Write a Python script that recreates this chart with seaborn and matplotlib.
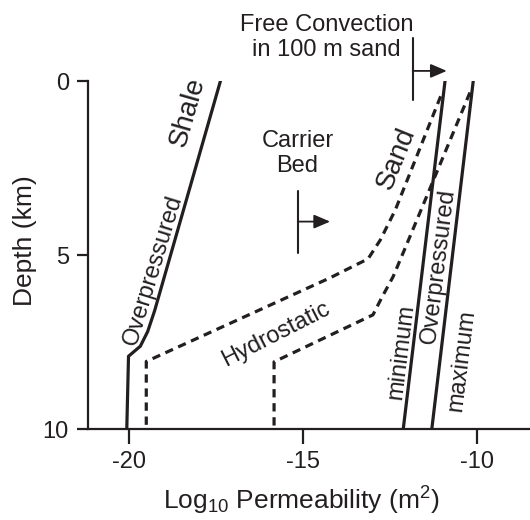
import matplotlib
matplotlib.use("Agg")
import matplotlib.pyplot as plt
import numpy as np
import pandas as pd
import seaborn as sns

# ---------------- data (log10 permeability vs depth km) ----------------
shale_depth = [0.0, 6.6, 7.2, 7.62, 7.91, 8.75, 10.0]
shale_logk = [-17.36, -19.25, -19.45, -19.66, -20.0, -20.02, -20.05]

hydro_low_depth = [9.88, 8.06, 5.66, 5.11, 4.57, 3.71, 0.40]
hydro_low_logk = [-19.49, -19.49, -14.22, -13.12, -12.77, -12.34, -11.02]

hydro_high_depth = [9.9, 8.07, 6.72, 6.21, 5.62, 4.86, 0.32]
hydro_high_logk = [-15.82, -15.82, -12.98, -12.72, -12.40, -12.08, -10.19]

sand_min_depth = [0.0, 10.0]
sand_min_logk = [-10.91, -12.11]

sand_max_depth = [0.0, 10.0]
sand_max_logk = [-10.10, -11.29]

x_ticks = [-20, -15, -10]
x_tick_labels = ["-20", "-15", "-10"]
y_ticks = [0, 5, 10]
y_tick_labels = ["0", "5", "10"]

# ---------------- style ----------------
sns.set_style("ticks")
plt.rcParams["font.family"] = ["Liberation Sans", "DejaVu Sans"]
plt.rcParams["mathtext.default"] = "regular"
plt.rcParams["axes.unicode_minus"] = False
INK = "#231f20"

fig = plt.figure(figsize=(5.3, 5.2), dpi=100)
ax = fig.add_axes([88.3 / 530, 91 / 520, (530 - 88.3) / 530, 348 / 520])

series = [
    (shale_logk, shale_depth, "-"),
    (hydro_low_logk, hydro_low_depth, (0, (2.6, 1.8))),
    (hydro_high_logk, hydro_high_depth, (0, (2.6, 1.8))),
    (sand_min_logk, sand_min_depth, "-"),
    (sand_max_logk, sand_max_depth, "-"),
]
for xs, ys, ls in series:
    df = pd.DataFrame({"logk": xs, "depth": ys})
    sns.lineplot(data=df, x="logk", y="depth", sort=False, estimator=None,
                 ax=ax, color=INK, lw=2.3, linestyle=ls)

ax.set_xlim(-21.155, -8.47)
ax.set_ylim(10, 0)
ax.set_xticks(x_ticks)
ax.set_xticklabels(x_tick_labels)
ax.set_yticks(y_ticks)
ax.set_yticklabels(y_tick_labels)
sns.despine(ax=ax)
for s in ("left", "bottom"):
    ax.spines[s].set_linewidth(1.6)
    ax.spines[s].set_color(INK)
ax.tick_params(axis="both", labelsize=17, width=1.6, color=INK, labelcolor=INK)
ax.tick_params(axis="x", length=11, pad=5)
ax.tick_params(axis="y", length=8, pad=6)

ax.set_xlabel("Log$_{10}$ Permeability (m$^2$)", fontsize=19, color=INK, va="baseline")
ax.xaxis.set_label_coords(0.4816, -0.232)
ax.set_ylabel("Depth (km)", fontsize=19, color=INK, va="center")
ax.yaxis.set_label_coords(-(88.3 - 25) / 441.7, (429 - 241) / 348)

# ---------------- annotations ----------------
def lab(x, y, s, rot, size=17):
    ax.text(x, y, s, rotation=rot, fontsize=size, ha="center", va="center",
            rotation_mode="anchor", color=INK, clip_on=False)

lab(-18.30, 0.90, "Shale", 74, 20)
lab(-19.28, 5.42, "Overpressured", 73)
lab(-12.30, 2.22, "Sand", 68, 20)
lab(-15.78, 7.28, "Hydrostatic", 27)
lab(-12.17, 7.79, "minimum", 83)
lab(-11.11, 5.33, "Overpressured", 83)
lab(-10.42, 8.02, "maximum", 83)
ax.text(-15.15, 2.09, "Carrier\nBed", fontsize=17, ha="center", va="center",
        multialignment="center", color=INK)
ax.text(-14.31, -1.25, "Free Convection\nin 100 m sand", fontsize=17, ha="center",
        va="center", multialignment="center", color=INK, clip_on=False)

arrow_style = "-|>,head_length=0.7,head_width=0.3"
for bar_x, y0, y1, ay, tip in [(-11.84, -1.23, 0.55, -0.29, -10.86),
                                (-15.14, 3.15, 4.93, 4.04, -14.21)]:
    ax.plot([bar_x, bar_x], [y0, y1], color=INK, lw=1.5, clip_on=False)
    ax.annotate("", xy=(tip, ay), xytext=(bar_x, ay), annotation_clip=False,
                arrowprops=dict(arrowstyle=arrow_style, color=INK, lw=1.3,
                                shrinkA=0, shrinkB=0, mutation_scale=14))

fig.savefig("out.png", dpi=100)
